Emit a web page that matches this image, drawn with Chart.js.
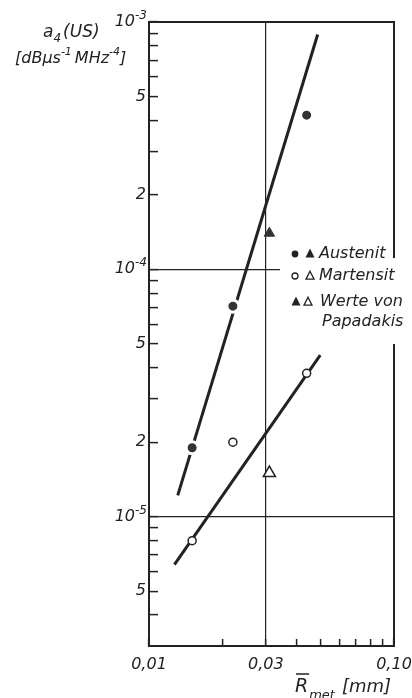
<!DOCTYPE html>
<html><head><meta charset="utf-8">
<script src="https://cdn.jsdelivr.net/npm/chart.js@4.4.1/dist/chart.umd.min.js"></script>
<style>html,body{margin:0;padding:0;background:#fff;}</style>
</head><body>
<canvas id="c" width="412" height="698"></canvas>
<script>
// ---------- data ----------
const austenitCircleX = [0.015, 0.022, 0.044];
const austenitCircleY = [1.9e-5, 7.1e-5, 4.2e-4];
const austenitTriangleX = [0.031];
const austenitTriangleY = [1.4e-4];
const martensitCircleX = [0.015, 0.022, 0.044];
const martensitCircleY = [8.0e-6, 2.0e-5, 3.8e-5];
const martensitTriangleX = [0.031];
const martensitTriangleY = [1.5e-5];
const austenitFitX = [0.0131, 0.0488];
const austenitFitY = [1.22e-5, 8.9e-4];
const martensitFitX = [0.0127, 0.050];
const martensitFitY = [6.4e-6, 4.5e-5];

// ---------- ticks ----------
const xTickValues = [0.01, 0.02, 0.03, 0.04, 0.05, 0.06, 0.07, 0.08, 0.09, 0.1];
const xLabelValues = [0.01, 0.03, 0.1];
const xLabelTexts = ['0,01', '0,03', '0,10'];
const xGridValues = [0.03];
const yTickValues = [4e-6, 5e-6, 6e-6, 7e-6, 8e-6, 9e-6,
  1e-5, 2e-5, 3e-5, 4e-5, 5e-5, 6e-5, 7e-5, 8e-5, 9e-5,
  1e-4, 2e-4, 3e-4, 4e-4, 5e-4, 6e-4, 7e-4, 8e-4, 9e-4, 1e-3];
const yLabelValues = [5e-6, 2e-5, 5e-5, 2e-4, 5e-4];
const yLabelTexts = ['5', '2', '5', '2', '5'];
const yPowerValues = [1e-5, 1e-4, 1e-3];
const yPowerExponents = ['-5', '-4', '-3'];
const yGridValues = [1e-5, 1e-4];

const legendRows = ['Austenit', 'Martensit', 'Werte von', 'Papadakis'];

const FONT = "'DejaVu Sans', sans-serif";
const INK = '#222';

function near(a, b) { return Math.abs(Math.log10(a) - Math.log10(b)) < 1e-6; }
function lookup(v, vals, texts) {
  for (let i = 0; i < vals.length; i++) if (near(v, vals[i])) return texts[i];
  return '';
}
function inList(v, vals) { return vals.some(w => near(v, w)); }
function pts(xs, ys) { return xs.map((x, i) => ({x: x, y: ys[i]})); }

function rich(ctx, x, y, segs) {
  for (const s of segs) {
    ctx.font = 'italic ' + s.size + 'px ' + FONT;
    ctx.fillText(s.t, x, y + (s.dy || 0));
    x += ctx.measureText(s.t).width + (s.gap || 0);
  }
  return x;
}

const decor = {
  id: 'decor',
  beforeDatasetsDraw(chart) {
    const {ctx, chartArea: a} = chart;
    ctx.save();
    ctx.strokeStyle = INK;
    ctx.lineWidth = 2;
    ctx.strokeRect(a.left, a.top, a.right - a.left, a.bottom - a.top);
    ctx.restore();
  },
  afterDatasetsDraw(chart) {
    const {ctx} = chart;
    const yScale = chart.scales.y;
    ctx.save();
    // power-of-ten tick labels, placed by the y scale
    ctx.fillStyle = INK;
    ctx.textBaseline = 'middle';
    ctx.textAlign = 'right';
    yPowerValues.forEach((v, i) => {
      const py = yScale.getPixelForValue(v) + (i === 2 ? 0 : 0);
      ctx.font = 'italic 12px ' + FONT;
      ctx.fillText(yPowerExponents[i], 147, py - 6);
      const w = ctx.measureText(yPowerExponents[i]).width;
      ctx.font = 'italic 16px ' + FONT;
      ctx.fillText('10', 147 - w, py);
    });

    // legend box (covers the grid line and right border)
    ctx.fillStyle = '#fff';
    ctx.fillRect(280, 258, 132, 86);
    ctx.fillStyle = INK; ctx.strokeStyle = INK; ctx.lineWidth = 1.3;
    const tri = (cx, cy, s, fill) => {
      ctx.beginPath();
      ctx.moveTo(cx, cy - s * 0.6); ctx.lineTo(cx + s / 2, cy + s * 0.4); ctx.lineTo(cx - s / 2, cy + s * 0.4); ctx.closePath();
      if (fill) ctx.fill(); else ctx.stroke();
    };
    const circ = (cx, cy, r, fill) => {
      ctx.beginPath(); ctx.arc(cx, cy, r, 0, Math.PI * 2);
      if (fill) ctx.fill(); else ctx.stroke();
    };
    const rowsY = [254, 276, 302, 322];
    circ(295, rowsY[0], 3.4, true); tri(310, rowsY[0], 9, true);
    circ(295, rowsY[1], 3.0, false); tri(310, rowsY[1], 8, false);
    tri(296, rowsY[2], 9, true); tri(308, rowsY[2], 8, false);
    ctx.textBaseline = 'middle';
    ctx.textAlign = 'left';
    ctx.font = 'italic 16px ' + FONT;
    ctx.fillText(legendRows[0], 319, rowsY[0]);
    ctx.fillText(legendRows[1], 319, rowsY[1]);
    ctx.fillText(legendRows[2], 320, rowsY[2]);
    ctx.fillText(legendRows[3], 322, rowsY[3]);

    // y axis title
    ctx.textBaseline = 'alphabetic';
    rich(ctx, 43, 37, [{t: 'a', size: 17}, {t: '4', size: 12, dy: 5, gap: 2}, {t: '(US)', size: 17}]);
    rich(ctx, 15, 63, [{t: '[dB\u00B5s', size: 16}, {t: '-1', size: 11, dy: -8, gap: 3}, {t: 'MHz', size: 16}, {t: '-4', size: 11, dy: -8}, {t: ']', size: 16}]);
    // x axis title
    const xEnd = rich(ctx, 295, 692, [{t: 'R', size: 19}]);
    ctx.lineWidth = 1.5;
    ctx.beginPath(); ctx.moveTo(296, 674); ctx.lineTo(xEnd + 1, 674); ctx.stroke();
    rich(ctx, xEnd + 1, 699, [{t: 'met', size: 13}]);
    rich(ctx, 342, 692, [{t: '[mm]', size: 18}]);
    ctx.restore();
  }
};

const lineDs = (label, xs, ys) => ({
  label, data: pts(xs, ys), showLine: true, pointRadius: 0, borderColor: INK,
  borderWidth: 3, backgroundColor: INK, order: 1
});

new Chart(document.getElementById('c'), {
  type: 'scatter',
  data: {
    datasets: [
      {label: 'Austenit', data: pts(austenitCircleX, austenitCircleY), pointStyle: 'circle', pointRadius: 6,
        backgroundColor: '#333', borderColor: '#fff', borderWidth: 3, order: 0},
      {label: 'Austenit (Papadakis)', data: pts(austenitTriangleX, austenitTriangleY), pointStyle: 'triangle', pointRadius: 6,
        backgroundColor: '#333', borderColor: '#333', borderWidth: 1, order: 0},
      {label: 'Martensit', data: pts(martensitCircleX, martensitCircleY), pointStyle: 'circle', pointRadius: 4,
        backgroundColor: '#fff', borderColor: INK, borderWidth: 1.5, order: 0},
      {label: 'Martensit (Papadakis)', data: pts(martensitTriangleX, martensitTriangleY), pointStyle: 'triangle', pointRadius: 7,
        backgroundColor: '#fff', borderColor: INK, borderWidth: 1.5, order: 0},
      lineDs('Austenit fit', austenitFitX, austenitFitY),
      lineDs('Martensit fit', martensitFitX, martensitFitY)
    ]
  },
  options: {
    responsive: false, animation: false, devicePixelRatio: 1,
    layout: {padding: {top: 22, right: 18, left: 0, bottom: 0}},
    plugins: {legend: {display: false}, tooltip: {enabled: false}},
    scales: {
      x: {
        type: 'logarithmic', min: 0.01, max: 0.1,
        afterBuildTicks: s => { s.ticks = xTickValues.map(v => ({value: v})); },
        afterFit: s => { s.height = 52; s.paddingLeft = 0; s.paddingRight = 0; },
        border: {display: false},
        grid: {
          color: c => (c.tick && inList(c.tick.value, xGridValues)) ? INK : 'rgba(0,0,0,0)',
          lineWidth: 1.2, tickColor: INK, tickWidth: 1.5, tickLength: -7, drawTicks: true
        },
        ticks: {
          autoSkip: false, maxRotation: 0, padding: 16, color: INK,
          font: {family: FONT, size: 16, style: 'italic'},
          callback: v => lookup(v, xLabelValues, xLabelTexts)
        }
      },
      y: {
        type: 'logarithmic', min: 3e-6, max: 1e-3,
        afterBuildTicks: s => { s.ticks = yTickValues.map(v => ({value: v})); },
        afterFit: s => { s.width = 149; s.paddingTop = 0; s.paddingBottom = 0; },
        border: {display: false},
        grid: {
          color: c => (c.tick && inList(c.tick.value, yGridValues)) ? INK : 'rgba(0,0,0,0)',
          lineWidth: 1.2, tickColor: INK, tickWidth: 1.5, tickLength: -9, drawTicks: true
        },
        ticks: {
          autoSkip: false, padding: 12, color: INK,
          font: {family: FONT, size: 16, style: 'italic'},
          callback: v => lookup(v, yLabelValues, yLabelTexts)
        }
      }
    }
  },
  plugins: [decor]
});
</script>
</body></html>
